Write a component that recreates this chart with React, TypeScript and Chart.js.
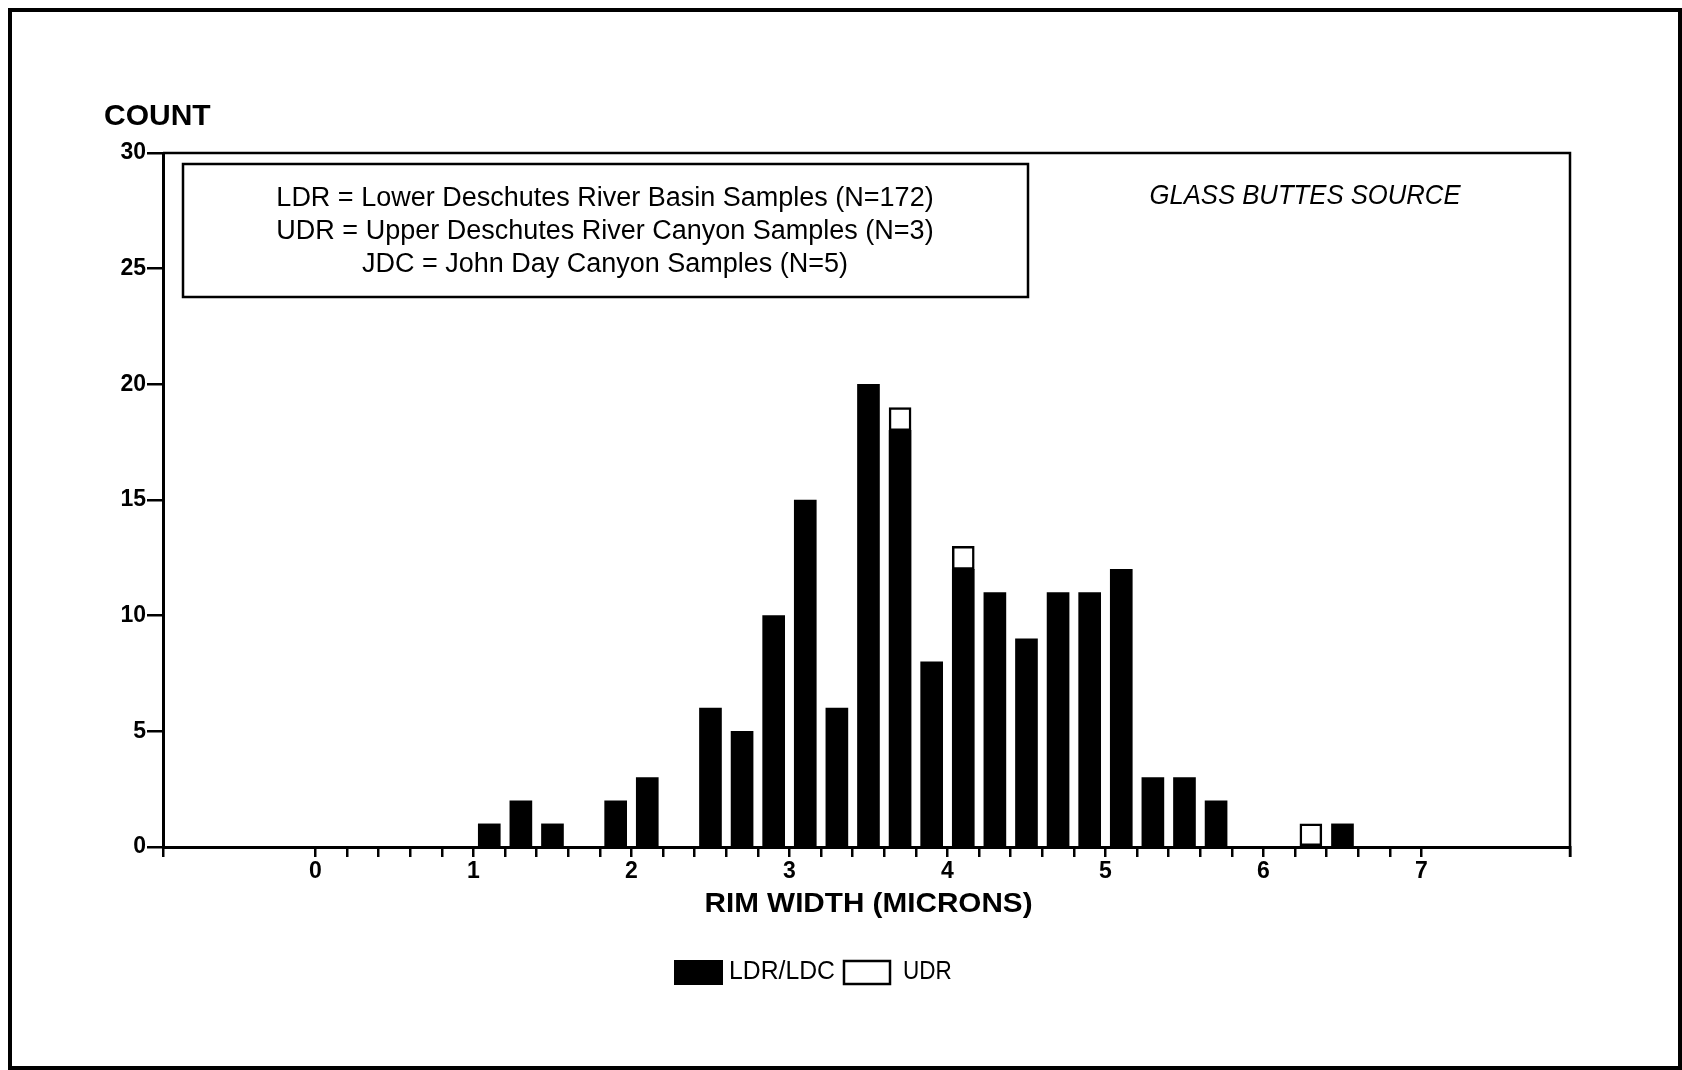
import React, { useEffect, useRef } from 'react';
import { Chart, registerables } from 'chart.js';

Chart.register(...registerables);

// ---- data ----
const BIN_CENTERS = [1.1, 1.3, 1.5, 1.9, 2.1, 2.5, 2.7, 2.9, 3.1, 3.3, 3.5, 3.7, 3.9, 4.1, 4.3, 4.5, 4.7, 4.9, 5.1, 5.3, 5.5, 5.7, 6.3, 6.5];
const LDR_COUNTS = [1, 2, 1, 2, 3, 6, 5, 10, 15, 6, 20, 18, 8, 12, 11, 9, 11, 11, 12, 3, 3, 2, 0, 1];
const UDR_COUNTS = [0, 0, 0, 0, 0, 0, 0, 0, 0, 0, 0, 1, 0, 1, 0, 0, 0, 0, 0, 0, 0, 0, 1, 0];
const SERIES_LABELS = ['LDR/LDC', 'UDR'];
const X_MAJOR_TICKS = [0, 1, 2, 3, 4, 5, 6, 7];
const X_MINOR_STEP = 0.2;
const Y_TICK_STEP = 5;
const Y_MAX = 30;
const NOTE_LINES = [
  'LDR = Lower Deschutes River Basin Samples (N=172)',
  'UDR = Upper Deschutes River Canyon Samples (N=3)',
  'JDC = John Day Canyon Samples (N=5)',
];
const SOURCE_TITLE = 'GLASS BUTTES SOURCE';
const Y_TITLE = 'COUNT';
const X_TITLE = 'RIM WIDTH (MICRONS)';

const FONT = "'Liberation Sans', Arial, Helvetica, sans-serif";
const X_MIN = -0.965;
const X_MAX = 7.94;

function buildXTicks(): number[] {
  const out: number[] = [X_MIN];
  const first = X_MAJOR_TICKS[0];
  const last = X_MAJOR_TICKS[X_MAJOR_TICKS.length - 1];
  const n = Math.round((last - first) / X_MINOR_STEP);
  for (let i = 0; i <= n; i++) out.push(Math.round((first + i * X_MINOR_STEP) * 1000) / 1000);
  out.push(X_MAX);
  return out;
}

function drawText(ctx: CanvasRenderingContext2D, text: string, x: number, y: number, font: string, align: CanvasTextAlign, sx = 1) {
  ctx.save();
  ctx.font = font;
  ctx.fillStyle = '#000';
  ctx.textBaseline = 'alphabetic';
  ctx.textAlign = align;
  ctx.translate(x, y);
  ctx.scale(sx, 1);
  ctx.fillText(text, 0, 0);
  ctx.restore();
}

export default function App() {
  const ref = useRef<HTMLCanvasElement>(null);

  useEffect(() => {
    const canvas = ref.current;
    if (!canvas) return;
    const xTicks = buildXTicks();

    const decor = {
      id: 'decor',
      beforeDraw(chart: any) {
        const ctx = chart.ctx as CanvasRenderingContext2D;
        ctx.save();
        ctx.fillStyle = '#fff';
        ctx.fillRect(0, 0, chart.width, chart.height);
        ctx.restore();
      },
      afterDraw(chart: any) {
        const ctx = chart.ctx as CanvasRenderingContext2D;
        const a = chart.chartArea;
        ctx.save();
        ctx.strokeStyle = '#000';
        // outer page frame
        ctx.lineWidth = 4;
        ctx.strokeRect(10, 10, 1670, 1058);
        // top and right of plot box
        ctx.lineWidth = 2.5;
        ctx.beginPath();
        ctx.moveTo(a.left, a.top);
        ctx.lineTo(a.right, a.top);
        ctx.lineTo(a.right, a.bottom + 10);
        ctx.stroke();
        // note box
        ctx.lineWidth = 2.5;
        ctx.strokeRect(183, 164, 845, 133);
        ctx.restore();

        NOTE_LINES.forEach((line, i) => {
          drawText(ctx, line, 605, 206 + i * 33, `27px ${FONT}`, 'center');
        });
        drawText(ctx, SOURCE_TITLE, 1305, 204, `italic 28px ${FONT}`, 'center', 0.917);
        drawText(ctx, Y_TITLE, 104, 125, `bold 30px ${FONT}`, 'left');
        drawText(ctx, X_TITLE, (a.left + a.right) / 2 + 2, 912, `bold 28px ${FONT}`, 'center', 1.06);

        // bottom legend
        const ds = chart.data.datasets;
        ctx.save();
        ctx.fillStyle = '#000';
        ctx.fillRect(674, 960, 49, 25);
        ctx.strokeStyle = '#000';
        ctx.lineWidth = 2.5;
        ctx.fillStyle = '#fff';
        ctx.fillRect(844, 961, 46, 23);
        ctx.strokeRect(844, 961, 46, 23);
        ctx.restore();
        drawText(ctx, ds[0].label, 729, 979, `25px ${FONT}`, 'left', 0.99);
        drawText(ctx, ds[1].label, 903, 979, `25px ${FONT}`, 'left', 0.9);
      },
    };

    const chart = new Chart(canvas, {
      type: 'bar',
      data: {
        datasets: [
          {
            label: SERIES_LABELS[0],
            data: BIN_CENTERS.map((x, i) => ({ x, y: LDR_COUNTS[i] })),
            backgroundColor: '#000',
            borderWidth: 0,
            barThickness: 22,
          },
          {
            label: SERIES_LABELS[1],
            data: BIN_CENTERS.map((x, i) => ({ x, y: UDR_COUNTS[i] > 0 ? UDR_COUNTS[i] : null })),
            backgroundColor: '#fff',
            borderColor: '#000',
            borderWidth: 2.5,
            borderSkipped: false,
            barThickness: 22,
          },
        ],
      } as any,
      options: {
        animation: false,
        responsive: false,
        devicePixelRatio: 1,
        layout: { padding: { top: 153, right: 112, left: 0, bottom: 0 } },
        plugins: {
          legend: { display: false },
          tooltip: { enabled: false },
          title: { display: false },
        },
        scales: {
          x: {
            type: 'linear',
            min: X_MIN,
            max: X_MAX,
            offset: false,
            stacked: true,
            afterBuildTicks: (scale: any) => {
              scale.ticks = xTicks.map((v) => ({ value: v }));
            },
            afterFit: (scale: any) => {
              scale.height = 223;
            },
            ticks: {
              autoSkip: false,
              maxRotation: 0,
              minRotation: 0,
              padding: 1,
              color: '#000',
              font: { family: FONT, size: 23, weight: 'bold' },
              callback: (value: any) => {
                const v = Number(value);
                const r = Math.round(v);
                return Math.abs(v - r) < 1e-6 && X_MAJOR_TICKS.includes(r) ? String(r) : '';
              },
            },
            grid: {
              display: true,
              offset: false,
              drawOnChartArea: false,
              drawTicks: true,
              tickLength: 10,
              tickWidth: 2.5,
              tickColor: '#000',
              color: '#000',
              lineWidth: 2.5,
            },
            border: { display: true, color: '#000', width: 3 },
          },
          y: {
            type: 'linear',
            min: 0,
            max: Y_MAX,
            stacked: true,
            afterFit: (scale: any) => {
              scale.width = 163;
            },
            ticks: {
              stepSize: Y_TICK_STEP,
              padding: 1,
              color: '#000',
              font: { family: FONT, size: 23, weight: 'bold' },
            },
            grid: {
              display: true,
              drawOnChartArea: false,
              drawTicks: true,
              tickLength: 16,
              tickWidth: 2.5,
              tickColor: '#000',
              color: '#000',
              lineWidth: 2.5,
            },
            border: { display: true, color: '#000', width: 3 },
          },
        },
      } as any,
      plugins: [decor],
    });

    return () => chart.destroy();
  }, []);

  return (
    <div style={{ position: 'absolute', left: 0, top: 0, width: 1682, height: 1070, background: '#fff' }}>
      <canvas ref={ref} width={1682} height={1070} style={{ display: 'block', width: 1682, height: 1070 }} />
    </div>
  );
}
